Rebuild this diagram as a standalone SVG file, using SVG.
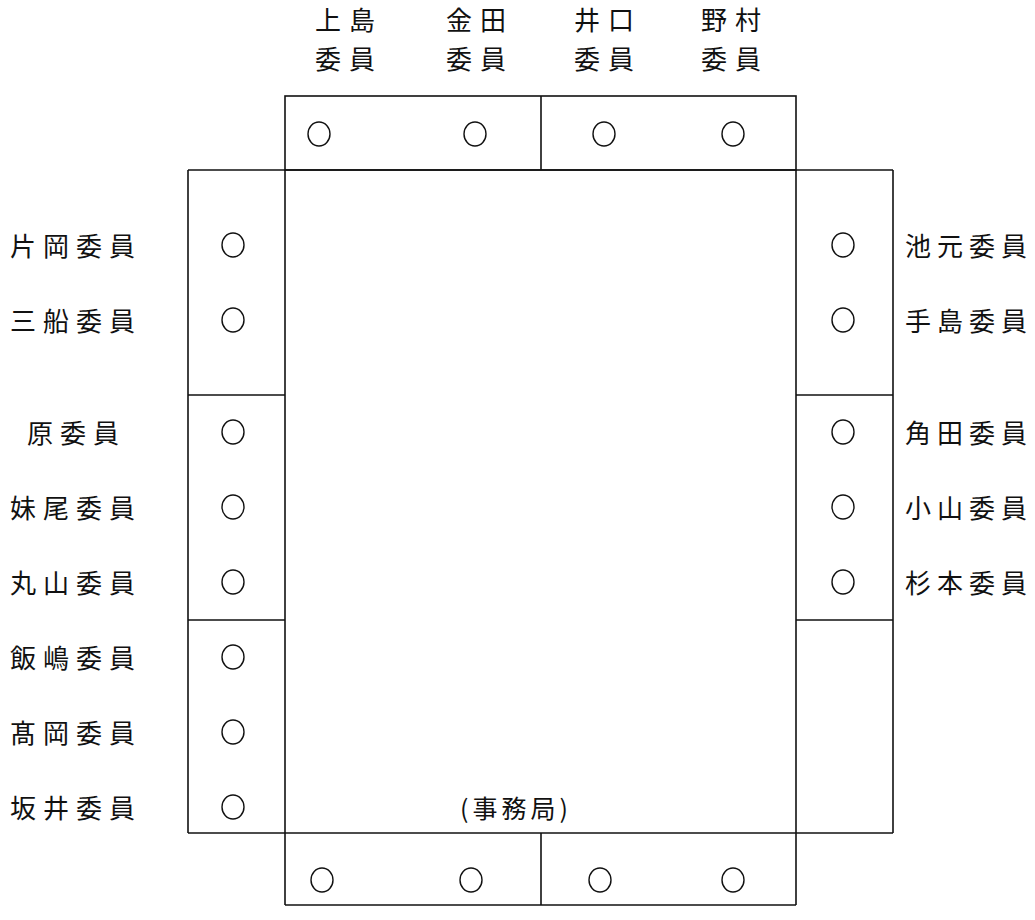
<svg xmlns="http://www.w3.org/2000/svg" width="1035" height="920" viewBox="0 0 1035 920">
<style>
.l{stroke:#111;stroke-width:1.6;fill:none}
.s{fill:none;stroke:#111;stroke-width:1.4}
.t{font-family:"Noto Sans CJK JP","Noto Sans CJK SC",sans-serif;font-size:26px;fill:#111;letter-spacing:7px}
.r{font-family:"Noto Sans CJK JP","Noto Sans CJK SC",sans-serif;font-size:26px;fill:#111;letter-spacing:6px}
.tt{font-family:"Noto Sans CJK JP","Noto Sans CJK SC",sans-serif;font-size:26px;fill:#111;letter-spacing:8px}
</style>
<rect width="1035" height="920" fill="#fff"/>
<g id="frame">
<rect class="l" x="285" y="96" width="511" height="74"/>
<line class="l" x1="541" y1="96" x2="541" y2="170"/>
<line class="l" x1="188" y1="170" x2="893" y2="170"/>
<line class="l" x1="188" y1="833" x2="893" y2="833"/>
<line class="l" x1="188" y1="170" x2="188" y2="833"/>
<line class="l" x1="285" y1="170" x2="285" y2="905"/>
<line class="l" x1="796" y1="170" x2="796" y2="905"/>
<line class="l" x1="893" y1="170" x2="893" y2="833"/>
<line class="l" x1="188" y1="395" x2="285" y2="395"/>
<line class="l" x1="188" y1="620" x2="285" y2="620"/>
<line class="l" x1="796" y1="395" x2="893" y2="395"/>
<line class="l" x1="796" y1="620" x2="893" y2="620"/>
<line class="l" x1="285" y1="905" x2="796" y2="905"/>
<line class="l" x1="541" y1="833" x2="541" y2="905"/>
</g>
<g id="top">
<text class="tt" x="315" y="30">上島</text><text class="tt" x="315" y="69">委員</text>
<text class="tt" x="446" y="30">金田</text><text class="tt" x="446" y="69">委員</text>
<text class="tt" x="574" y="30">井口</text><text class="tt" x="574" y="69">委員</text>
<text class="tt" x="701" y="30">野村</text><text class="tt" x="701" y="69">委員</text>
<ellipse class="s" cx="319" cy="134" rx="11" ry="12"/>
<ellipse class="s" cx="475" cy="134" rx="11" ry="12"/>
<ellipse class="s" cx="604" cy="134" rx="11" ry="12"/>
<ellipse class="s" cx="733" cy="134" rx="11" ry="12"/>
</g>
<g id="left">
<text class="t" x="10" y="256">片岡委員</text><ellipse class="s" cx="233" cy="245" rx="11" ry="12"/>
<text class="t" x="10" y="331">三船委員</text><ellipse class="s" cx="233" cy="320" rx="11" ry="12"/>
<text class="t" x="27" y="443">原委員</text><ellipse class="s" cx="233" cy="432" rx="11" ry="12"/>
<text class="t" x="10" y="518">妹尾委員</text><ellipse class="s" cx="233" cy="507" rx="11" ry="12"/>
<text class="t" x="10" y="593">丸山委員</text><ellipse class="s" cx="233" cy="582" rx="11" ry="12"/>
<text class="t" x="10" y="668">飯嶋委員</text><ellipse class="s" cx="233" cy="657" rx="11" ry="12"/>
<text class="t" x="10" y="743">髙岡委員</text><ellipse class="s" cx="233" cy="732" rx="11" ry="12"/>
<text class="t" x="10" y="818">坂井委員</text><ellipse class="s" cx="233" cy="807" rx="11" ry="12"/>
</g>
<g id="right">
<text class="r" x="905" y="256">池元委員</text><ellipse class="s" cx="843" cy="245" rx="11" ry="12"/>
<text class="r" x="905" y="331">手島委員</text><ellipse class="s" cx="843" cy="320" rx="11" ry="12"/>
<text class="r" x="905" y="443">角田委員</text><ellipse class="s" cx="843" cy="432" rx="11" ry="12"/>
<text class="r" x="905" y="518">小山委員</text><ellipse class="s" cx="843" cy="507" rx="11" ry="12"/>
<text class="r" x="905" y="593">杉本委員</text><ellipse class="s" cx="843" cy="582" rx="11" ry="12"/>
</g>
<g id="bottom">
<text x="460" y="818" font-family="Noto Sans CJK JP, Noto Sans CJK SC, sans-serif" font-size="25" letter-spacing="4" fill="#111">(事務局)</text>
<ellipse class="s" cx="322" cy="880" rx="11" ry="12"/>
<ellipse class="s" cx="471" cy="880" rx="11" ry="12"/>
<ellipse class="s" cx="600" cy="880" rx="11" ry="12"/>
<ellipse class="s" cx="733" cy="880" rx="11" ry="12"/>
</g>
</svg>
